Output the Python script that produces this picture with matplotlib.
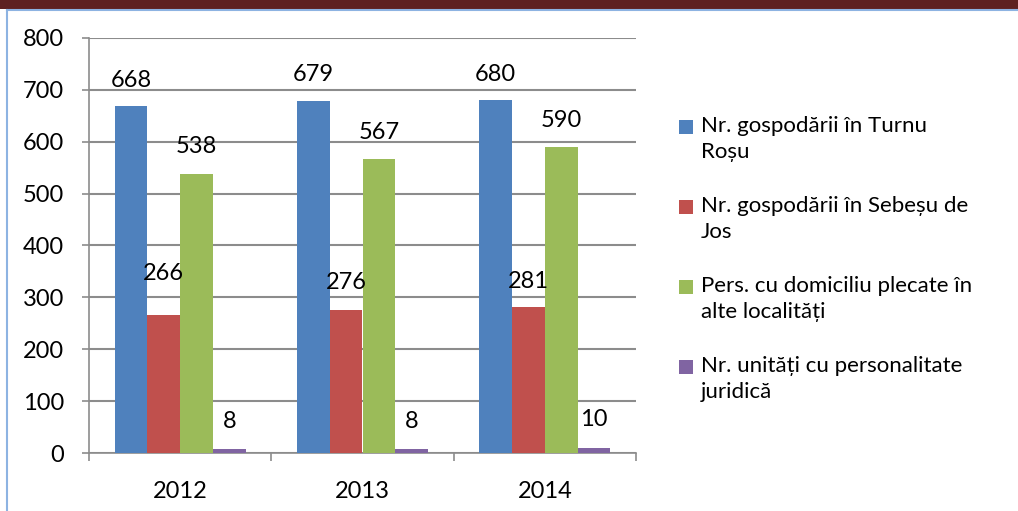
import numpy as np
import matplotlib
matplotlib.use("Agg")
import matplotlib.pyplot as plt
from matplotlib.patches import Rectangle

# Daten
ani = ["2012", "2013", "2014"]
serii = [
    "Nr. gospodării în Turnu\nRoșu",
    "Nr. gospodării în Sebeșu de\nJos",
    "Pers. cu domiciliu plecate în\nalte localități",
    "Nr. unități cu personalitate\njuridică",
]
gosp_turnu_rosu = [668, 679, 680]
gosp_sebesu_de_jos = [266, 276, 281]
pers_plecate = [538, 567, 590]
unitati_juridice = [8, 8, 10]

culori = ["#4F81BD", "#C0504D", "#9BBB59", "#8064A2"]
# Abstand der Beschriftungsmitte ueber dem Balken (Pixel)
label_offset = [
    [26, 26, 26],
    [42, 27, 26],
    [27, 26, 26],
    [27, 27, 28],
]
fs = 17

plt.rcParams["font.family"] = ["Lato", "DejaVu Sans"]

fig = plt.figure(figsize=(10.18, 5.11), dpi=100)
ax = fig.add_axes([89 / 1018, 1 - 453 / 511, 547 / 1018, 415 / 511])

# Rahmen der Abbildung
fig.patches.append(Rectangle((0, 1 - 9 / 511), 1, 9 / 511, transform=fig.transFigure,
                             facecolor="#5E2121", edgecolor="none", zorder=0))
fig.lines.append(plt.Line2D([7 / 1018, 1], [1 - 10.5 / 511, 1 - 10.5 / 511], transform=fig.transFigure,
                            color="#8DB3E2", lw=1.5))
fig.lines.append(plt.Line2D([7 / 1018, 7 / 1018], [0, 1 - 10.5 / 511], transform=fig.transFigure,
                            color="#8DB3E2", lw=1.5))

x = np.arange(len(ani))
w = 0.18
werte = [gosp_turnu_rosu, gosp_sebesu_de_jos, pers_plecate, unitati_juridice]
for i, vals in enumerate(werte):
    pos = x + (i - 1.5) * w
    ax.bar(pos, vals, width=w, color=culori[i], zorder=3)
    for j, v in enumerate(vals):
        ax.annotate(str(v), (pos[j], v), xytext=(0, label_offset[i][j] * 0.72),
                    textcoords="offset points", ha="center", va="center", fontsize=fs, zorder=4)

ax.set_ylim(0, 800)
ax.set_xlim(-0.5, 2.5)
ax.set_yticks(range(0, 801, 100))
ax.yaxis.grid(True, color="#8C8C8C", lw=1.5, zorder=0)
ax.set_xticks(x)
ax.set_xticklabels(ani)
ax.set_xticks([-0.5, 0.5, 1.5, 2.5], minor=True)
ax.tick_params(axis="x", which="major", length=0, pad=20, labelsize=fs)
ax.tick_params(axis="x", which="minor", length=6, width=1.2, color="#8C8C8C", direction="out")
ax.tick_params(axis="y", length=5, width=1.2, color="#8C8C8C", pad=13, labelsize=fs)

for s in ["top", "right"]:
    ax.spines[s].set_visible(False)
ax.spines["left"].set_color("#8C8C8C")
ax.spines["bottom"].set_color("#8C8C8C")
ax.spines["left"].set_linewidth(1.2)
ax.spines["bottom"].set_linewidth(1.2)

# Legende: Quadrat auf Hoehe der ersten Zeile
for k, (name, c) in enumerate(zip(serii, culori)):
    y0 = 1 - (127 + 80 * k) / 511
    fig.patches.append(Rectangle((679 / 1018, y0 - 7 / 511), 14 / 1018, 14 / 511,
                                 transform=fig.transFigure, facecolor=c, edgecolor="none"))
    fig.text(701 / 1018, y0 + 11 / 511, name, fontsize=16, va="top", ha="left", linespacing=1.36)

plt.savefig("out.png", dpi=100)
